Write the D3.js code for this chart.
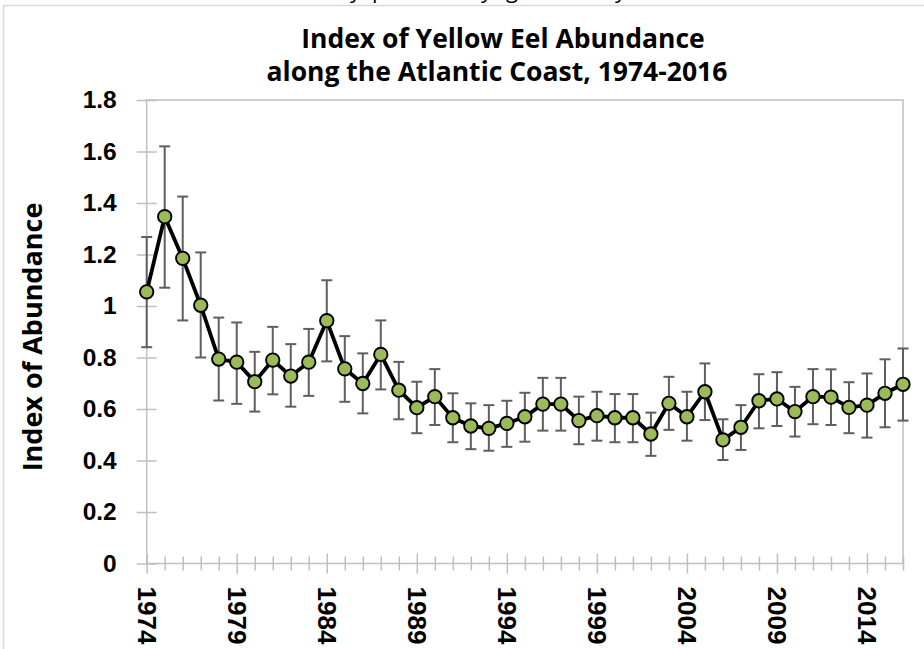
<!DOCTYPE html>
<html>
<head>
  <meta charset="utf-8">
  <script src="https://cdnjs.cloudflare.com/ajax/libs/d3/7.8.5/d3.min.js"></script>
  <style>
    body { margin: 0; background: #fff; }
    svg { display: block; font-family: "Open Sans", Lato, sans-serif; }
  </style>
</head>
<body>
  <div id="chart"></div>
  <script>
    // index of abundance per year, with lower / upper error bar ends
    var years = d3.range(1974, 2017);
    var index = [1.055, 1.347, 1.185, 1.003, 0.794, 0.782, 0.706, 0.790, 0.728, 0.782,
      0.943, 0.756, 0.699, 0.812, 0.673, 0.605, 0.648, 0.566, 0.534, 0.525,
      0.544, 0.570, 0.619, 0.619, 0.555, 0.574, 0.566, 0.566, 0.503, 0.622,
      0.570, 0.667, 0.480, 0.529, 0.632, 0.639, 0.590, 0.648, 0.646, 0.606,
      0.615, 0.661, 0.696];
    var lower = [0.840, 1.071, 0.944, 0.800, 0.633, 0.620, 0.590, 0.657, 0.609, 0.651,
      0.785, 0.628, 0.583, 0.676, 0.560, 0.506, 0.538, 0.471, 0.444, 0.438,
      0.453, 0.473, 0.516, 0.516, 0.463, 0.477, 0.471, 0.471, 0.418, 0.519,
      0.477, 0.557, 0.402, 0.441, 0.525, 0.534, 0.493, 0.541, 0.538, 0.506,
      0.489, 0.529, 0.555];
    var upper = [1.268, 1.620, 1.425, 1.208, 0.955, 0.936, 0.822, 0.919, 0.852, 0.911,
      1.100, 0.883, 0.816, 0.944, 0.783, 0.706, 0.755, 0.661, 0.622, 0.615,
      0.632, 0.663, 0.721, 0.721, 0.648, 0.667, 0.658, 0.658, 0.586, 0.725,
      0.667, 0.777, 0.560, 0.615, 0.735, 0.743, 0.686, 0.755, 0.754, 0.704,
      0.738, 0.793, 0.835];
    var yTicks = [0, 0.2, 0.4, 0.6, 0.8, 1, 1.2, 1.4, 1.6, 1.8];
    var labelYears = [1974, 1979, 1984, 1989, 1994, 1999, 2004, 2009, 2014];

    var data = years.map(function (yr, i) {
      return { year: yr, v: index[i], lo: lower[i], hi: upper[i] };
    });

    var W = 924, H = 649;
    var svg = d3.select("#chart").append("svg")
      .attr("width", W).attr("height", H);

    svg.append("rect").attr("width", W).attr("height", H).attr("fill", "#fff");

    // line of text above the chart, cropped in the source (only descenders show)
    var cut = svg.append("text")
      .attr("y", -2)
      .style("font-size", "22px")
      .attr("fill", "#000");
    [[350, "y"], [372, "p"], [481, "y"], [506, "g"], [615, "y"]].forEach(function (c) {
      cut.append("tspan").attr("x", c[0]).text(c[1]);
    });

    // chart area border
    svg.append("rect")
      .attr("x", 3.5).attr("y", 5.5)
      .attr("width", W + 10).attr("height", H + 10)
      .attr("fill", "none").attr("stroke", "#d9d9d9").attr("stroke-width", 1.5);

    var x = d3.scaleLinear().domain([1974, 2016]).range([146.7, 903]);
    var y = d3.scaleLinear().domain([0, 1.8]).range([563.5, 100]);

    var axisCol = "#bfbfbf";

    // plot area border
    svg.append("rect")
      .attr("x", x(1974)).attr("y", y(1.8))
      .attr("width", x(2016) - x(1974)).attr("height", y(0) - y(1.8))
      .attr("fill", "none").attr("stroke", axisCol).attr("stroke-width", 1.5);

    // y axis
    var gy = svg.append("g")
      .attr("transform", "translate(" + x(1974) + ",0)")
      .call(d3.axisLeft(y).tickValues(yTicks).tickSize(10).tickPadding(20)
        .tickFormat(function (d) { return String(Math.round(d * 10) / 10); }));
    gy.select(".domain").remove();
    gy.selectAll(".tick line").attr("x1", 10).attr("stroke", axisCol).attr("stroke-width", 1.5);
    gy.selectAll(".tick text")
      .style("font-size", "24.5px").style("font-weight", "bold").attr("fill", "#000");

    // x axis
    var gx = svg.append("g")
      .attr("transform", "translate(0," + y(0) + ")")
      .call(d3.axisBottom(x).tickValues(years).tickSize(0)
        .tickFormat(function (d) { return labelYears.indexOf(d) >= 0 ? d : ""; }));
    gx.select(".domain").remove();
    gx.selectAll(".tick line")
      .attr("y1", function (d) { return labelYears.indexOf(d) >= 0 ? -10 : -7; })
      .attr("y2", function (d) { return labelYears.indexOf(d) >= 0 ? 10 : 7; })
      .attr("stroke", axisCol).attr("stroke-width", 1.5);
    gx.selectAll(".tick text")
      .attr("y", 0).attr("dy", null)
      .attr("transform", "translate(0,23) rotate(90)")
      .attr("text-anchor", "start")
      .attr("dominant-baseline", "central")
      .style("font-size", "26px").style("font-weight", "bold").attr("fill", "#000");

    // error bars
    var eb = svg.append("g").attr("stroke", "#5f5f5f").attr("stroke-width", 2);
    eb.selectAll("line.v").data(data).join("line").attr("class", "v")
      .attr("x1", function (d) { return x(d.year); }).attr("x2", function (d) { return x(d.year); })
      .attr("y1", function (d) { return y(d.lo); }).attr("y2", function (d) { return y(d.hi); });
    eb.selectAll("line.t").data(data).join("line").attr("class", "t")
      .attr("x1", function (d) { return x(d.year) - 5.5; }).attr("x2", function (d) { return x(d.year) + 5.5; })
      .attr("y1", function (d) { return y(d.hi); }).attr("y2", function (d) { return y(d.hi); });
    eb.selectAll("line.b").data(data).join("line").attr("class", "b")
      .attr("x1", function (d) { return x(d.year) - 5.5; }).attr("x2", function (d) { return x(d.year) + 5.5; })
      .attr("y1", function (d) { return y(d.lo); }).attr("y2", function (d) { return y(d.lo); });

    // series line
    svg.append("path").datum(data)
      .attr("fill", "none").attr("stroke", "#000").attr("stroke-width", 3.8)
      .attr("stroke-linejoin", "round")
      .attr("d", d3.line().x(function (d) { return x(d.year); }).y(function (d) { return y(d.v); }));

    // markers
    svg.selectAll("circle.pt").data(data).join("circle").attr("class", "pt")
      .attr("cx", function (d) { return x(d.year); })
      .attr("cy", function (d) { return y(d.v); })
      .attr("r", 6.7)
      .attr("fill", "#9bbb59").attr("stroke", "#000").attr("stroke-width", 1.9);

    // titles
    var title = svg.append("text")
      .attr("text-anchor", "middle")
      .style("font-size", "26.5px").style("font-weight", "bold");
    title.append("tspan").attr("x", 503).attr("y", 48).text("Index of Yellow Eel Abundance");
    title.append("tspan").attr("x", 497).attr("y", 81).text("along the Atlantic Coast, 1974-2016");

    svg.append("text")
      .attr("transform", "translate(42,337) rotate(-90)")
      .attr("text-anchor", "middle")
      .style("font-size", "27px").style("font-weight", "bold")
      .text("Index of Abundance");
  </script>
</body>
</html>
